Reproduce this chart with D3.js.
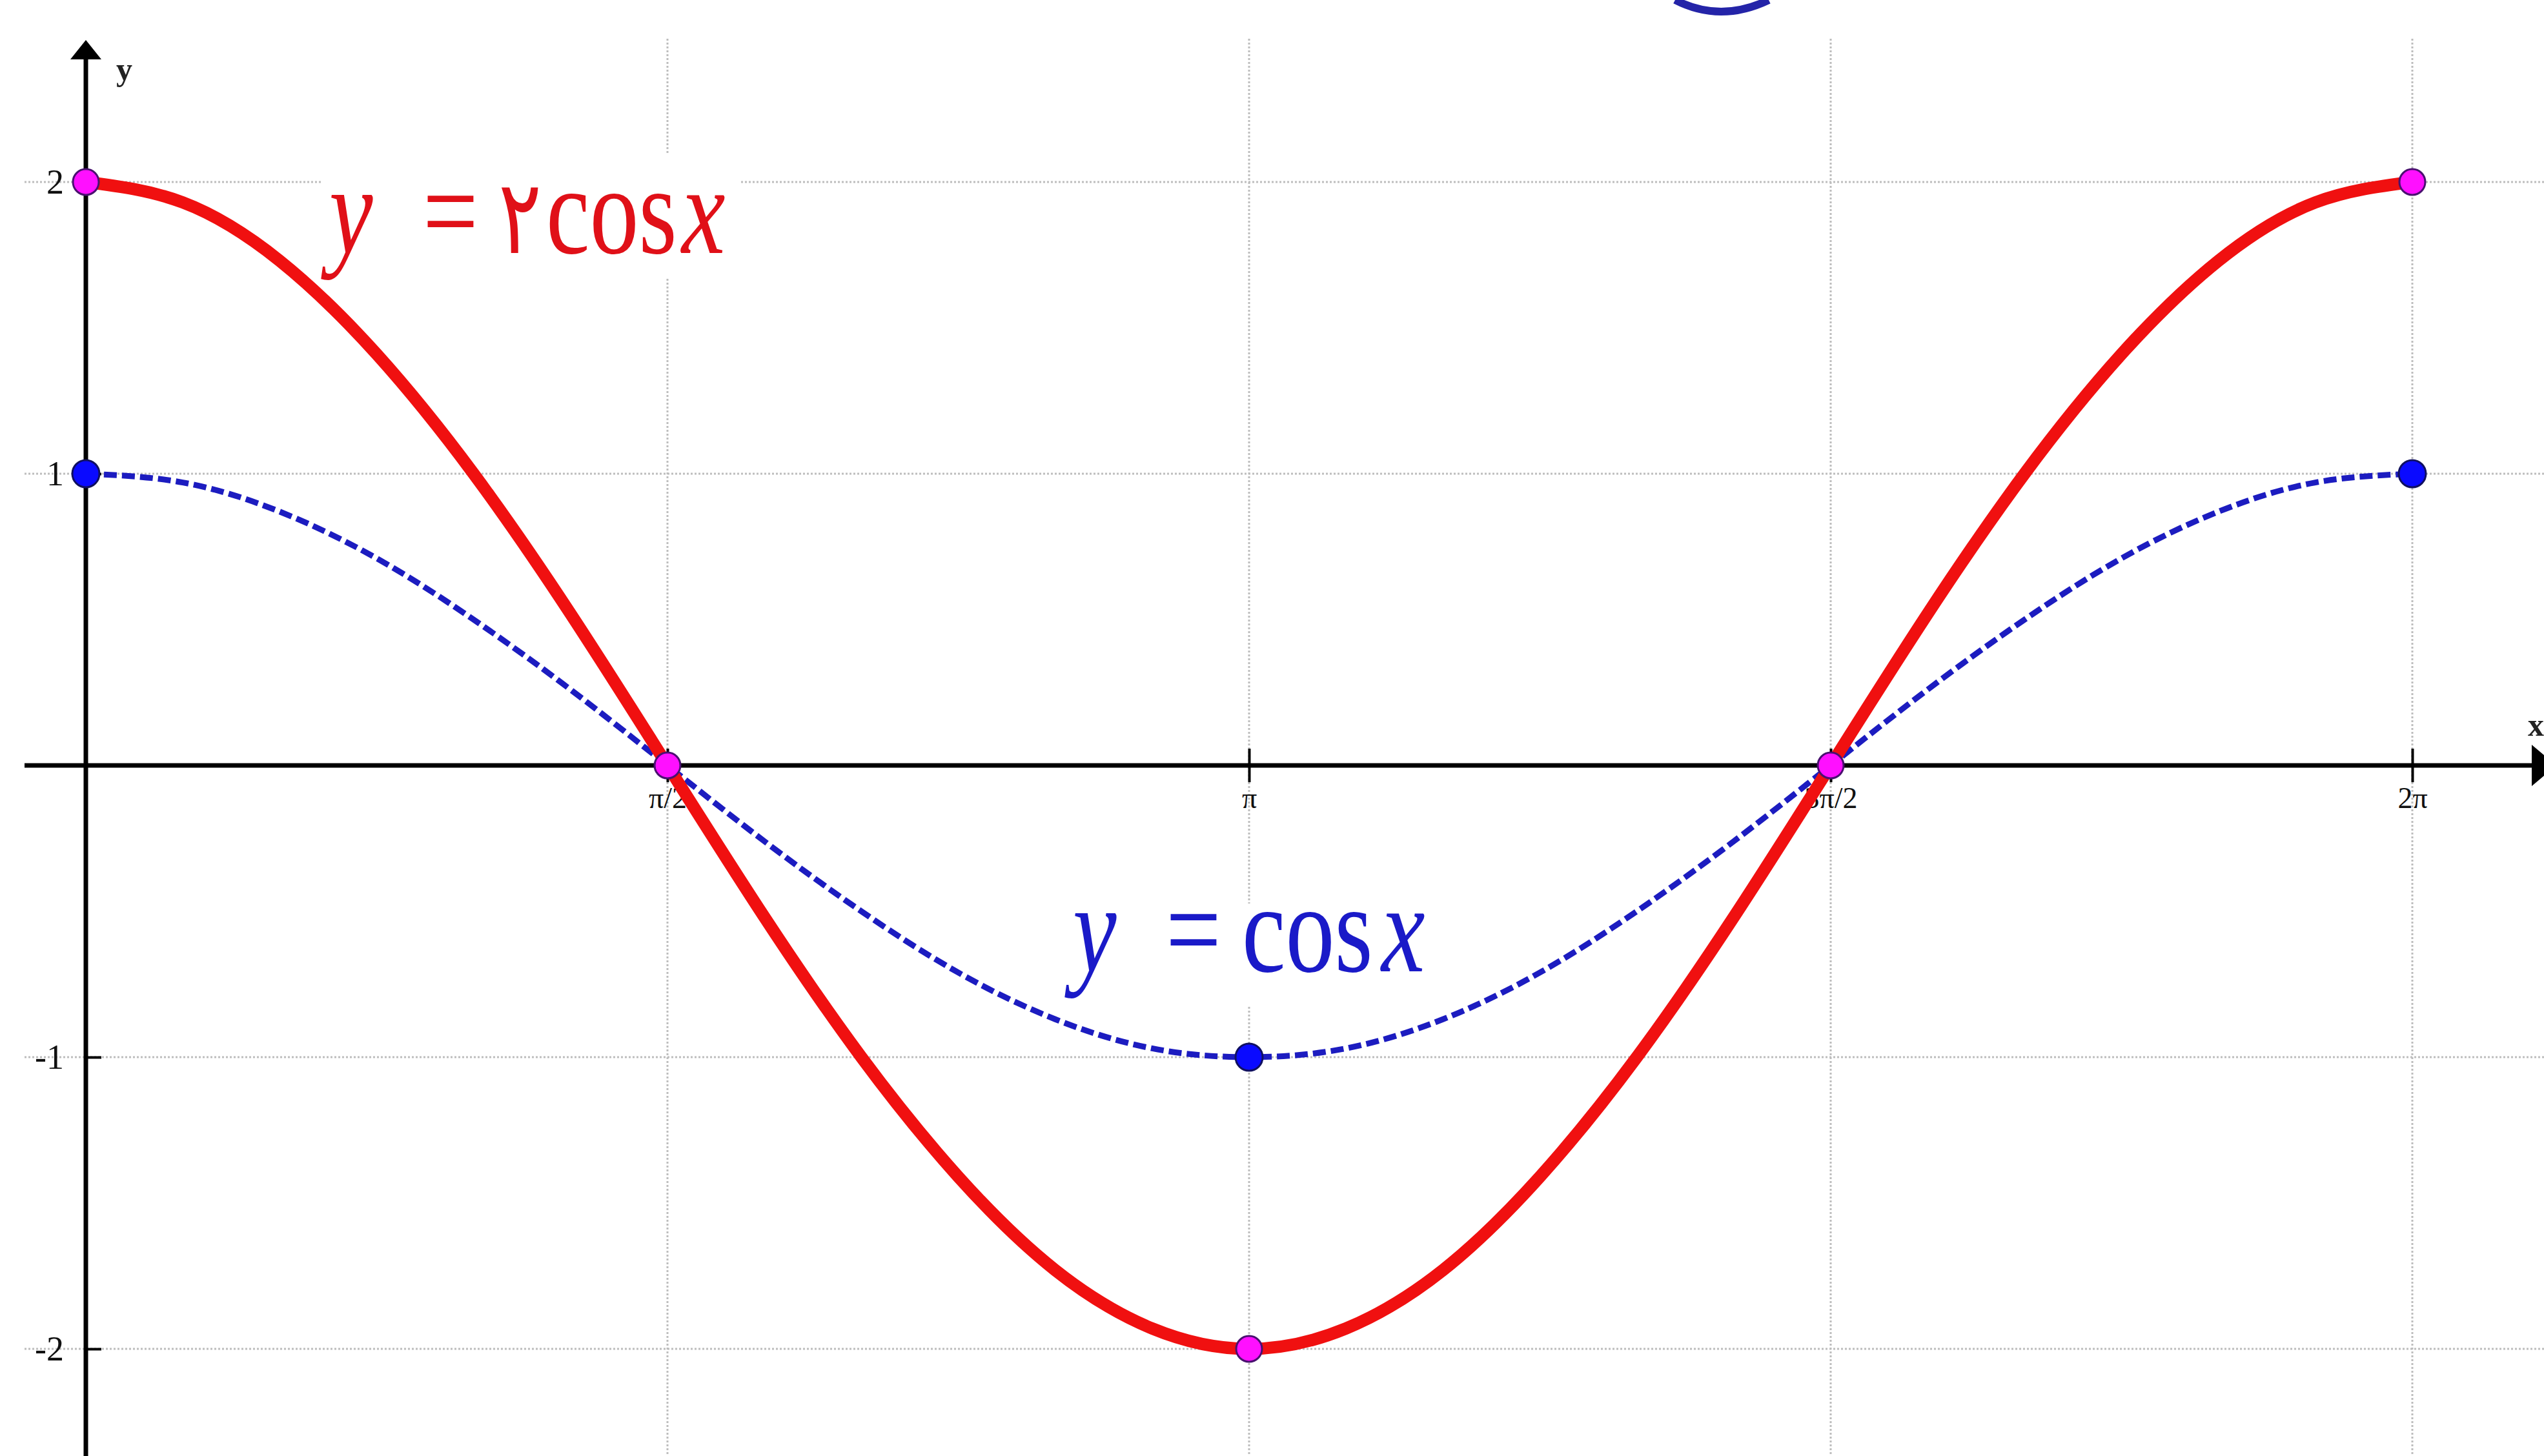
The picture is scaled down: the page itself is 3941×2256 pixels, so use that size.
<!DOCTYPE html>
<html>
<head>
<meta charset="utf-8">
<script src="https://cdn.jsdelivr.net/npm/d3@7"></script>
<style>
  body { margin: 0; background: #fff; }
  svg { display: block; }
</style>
</head>
<body>
<div id="chart"></div>
<script>
// sample angles in degrees, 15 degree steps over [0, 2π]
const angles = [0, 15, 30, 45, 60, 75, 90, 105, 120, 135, 150, 165, 180,
  195, 210, 225, 240, 255, 270, 285, 300, 315, 330, 345, 360];
// y = cos x (blue, dashed)
const cosValues = [1, 0.97, 0.87, 0.71, 0.5, 0.26, 0, -0.26, -0.5, -0.71, -0.87, -0.97, -1,
  -0.97, -0.87, -0.71, -0.5, -0.26, 0, 0.26, 0.5, 0.71, 0.87, 0.97, 1];
// y = 2cos x (red)
const twoCosValues = [2, 1.93, 1.73, 1.41, 1, 0.52, 0, -0.52, -1, -1.41, -1.73, -1.93, -2,
  -1.93, -1.73, -1.41, -1, -0.52, 0, 0.52, 1, 1.41, 1.73, 1.93, 2];

const redPointAngles = [0, 90, 180, 270, 360];
const redPointValues = [2, 0, -2, 0, 2];
const bluePointAngles = [0, 180, 360];
const bluePointValues = [1, -1, 1];

const xTickValues = [90, 180, 270, 360];
const xTickLabels = ["π/2", "π", "3π/2", "2π"];
const yTickValues = [2, 1, -1, -2];
const yTickLabels = ["2", "1", "-1", "-2"];

const W = 3941, H = 2256;
const serif = "'Liberation Serif', 'Times New Roman', serif";

const svg = d3.select("#chart").append("svg")
  .attr("width", W).attr("height", H);

const x = d3.scaleLinear().domain([0, 360]).range([133, 3737]);
const y = d3.scaleLinear().domain([-2, 2]).range([2090, 282]);

// grid lines
const grid = svg.append("g").attr("stroke", "#bdbdbd").attr("stroke-width", 3)
  .attr("stroke-dasharray", "3,3");
grid.selectAll("line.h").data(yTickValues).enter().append("line")
  .attr("x1", 38).attr("x2", W)
  .attr("y1", function (d) { return y(d); })
  .attr("y2", function (d) { return y(d); });
grid.selectAll("line.v").data(xTickValues).enter().append("line")
  .attr("y1", 60).attr("y2", H)
  .attr("x1", function (d) { return x(d); })
  .attr("x2", function (d) { return x(d); });

// x axis
const xAxis = svg.append("g")
  .attr("transform", "translate(0," + y(0) + ")")
  .call(d3.axisBottom(x).tickValues(xTickValues)
    .tickFormat(function (d, i) { return xTickLabels[i]; })
    .tickSize(26).tickSizeOuter(0));
xAxis.select(".domain").remove();
xAxis.selectAll(".tick line").attr("y1", -26).attr("stroke", "#000").attr("stroke-width", 4);
xAxis.selectAll(".tick text")
  .attr("font-family", serif).attr("font-size", 46).attr("fill", "#111")
  .attr("y", 66).attr("dy", "0");

svg.append("line")
  .attr("x1", 38).attr("x2", 3928)
  .attr("y1", y(0)).attr("y2", y(0))
  .attr("stroke", "#000").attr("stroke-width", 7);
svg.append("path")
  .attr("d", "M3922," + (y(0) - 32) + " L3960," + y(0) + " L3922," + (y(0) + 32) + "Z")
  .attr("fill", "#000");

// y axis
const yAxis = svg.append("g")
  .attr("transform", "translate(" + x(0) + ",0)")
  .call(d3.axisLeft(y).tickValues(yTickValues)
    .tickFormat(function (d, i) { return yTickLabels[i]; })
    .tickSize(26).tickSizeOuter(0));
yAxis.select(".domain").remove();
yAxis.selectAll(".tick line").attr("x2", 24).attr("stroke", "#000").attr("stroke-width", 4);
yAxis.selectAll(".tick text")
  .attr("font-family", serif).attr("font-size", 54).attr("fill", "#111")
  .attr("x", -34);

svg.append("line")
  .attr("x1", x(0)).attr("x2", x(0))
  .attr("y1", 80).attr("y2", H)
  .attr("stroke", "#000").attr("stroke-width", 7);
svg.append("path")
  .attr("d", "M" + (x(0) - 24) + ",92 L" + x(0) + ",62 L" + (x(0) + 24) + ",92Z")
  .attr("fill", "#000");

svg.append("text").attr("x", 180).attr("y", 124)
  .attr("font-family", serif).attr("font-size", 50).attr("font-weight", "bold")
  .attr("fill", "#222").text("y");
svg.append("text").attr("x", 3916).attr("y", 1140)
  .attr("font-family", serif).attr("font-size", 50).attr("font-weight", "bold")
  .attr("fill", "#222").text("x");

// bit of a blue circle cut by the top edge
svg.append("path")
  .attr("d", "M2595,0 Q2665,36 2740,0")
  .attr("fill", "none").attr("stroke", "#2424a8").attr("stroke-width", 12);

// curves
const blueData = angles.map(function (a, i) { return { a: a, v: cosValues[i] }; });
const redData = angles.map(function (a, i) { return { a: a, v: twoCosValues[i] }; });
const line = d3.line()
  .x(function (d) { return x(d.a); })
  .y(function (d) { return y(d.v); })
  .curve(d3.curveNatural);

svg.append("path").datum(blueData).attr("d", line)
  .attr("fill", "none").attr("stroke", "#1c1cc0").attr("stroke-width", 9)
  .attr("stroke-dasharray", "20,8");
svg.append("path").datum(redData).attr("d", line)
  .attr("fill", "none").attr("stroke", "#f01010").attr("stroke-width", 19)
  .attr("stroke-linejoin", "round");

// points
svg.selectAll("circle.blue").data(bluePointAngles).enter().append("circle")
  .attr("cx", function (d) { return x(d); })
  .attr("cy", function (d, i) { return y(bluePointValues[i]); })
  .attr("r", 21).attr("fill", "#0a0aff").attr("stroke", "#101060").attr("stroke-width", 3);
svg.selectAll("circle.red").data(redPointAngles).enter().append("circle")
  .attr("cx", function (d) { return x(d); })
  .attr("cy", function (d, i) { return y(redPointValues[i]); })
  .attr("r", 20).attr("fill", "#ff10ff").attr("stroke", "#4a1070").attr("stroke-width", 3);

// equation labels
function drawLabel(pieces, baseline, color, bg) {
  svg.append("rect").attr("x", bg[0]).attr("y", bg[1]).attr("width", bg[2]).attr("height", bg[3])
    .attr("fill", "#fff");
  pieces.forEach(function (p) {
    svg.append("text")
      .attr("transform", "translate(" + p.x + "," + baseline + ") scale(0.78,1)")
      .attr("font-family", p.ar ? "'DejaVu Sans', sans-serif" : serif)
      .attr("font-size", p.size || 195)
      .attr("font-style", p.it ? "italic" : "normal")
      .attr("fill", color)
      .text(p.t);
  });
}

drawLabel([
  { t: "y", x: 510, it: true },
  { t: "=", x: 655 },
  { t: "۲", x: 772, ar: true, size: 160 },
  { t: "cos", x: 846 },
  { t: "x", x: 1056, it: true }
], 392, "#e01018", [500, 240, 645, 190]);

drawLabel([
  { t: "y", x: 1662, it: true },
  { t: "=", x: 1806 },
  { t: "cos", x: 1924 },
  { t: "x", x: 2140, it: true }
], 1505, "#1a1ac8", [1640, 1400, 590, 160]);
</script>
</body>
</html>
